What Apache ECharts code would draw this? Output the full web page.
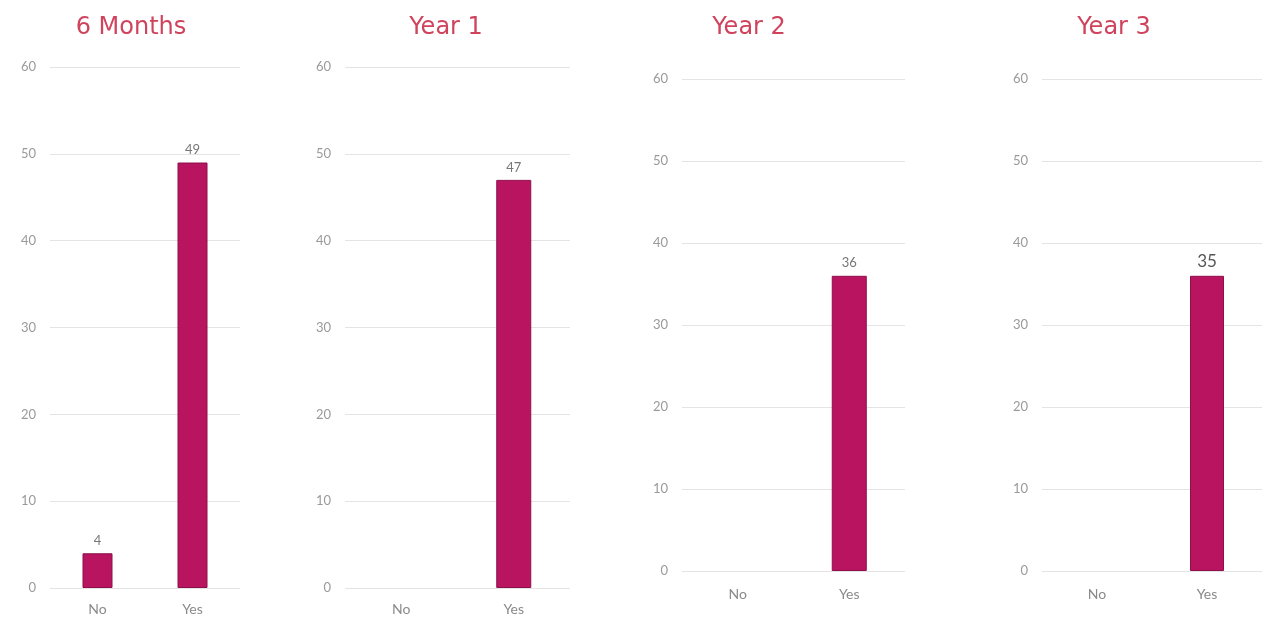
<!DOCTYPE html>
<html>
<head>
<meta charset="utf-8">
<script src="https://cdn.jsdelivr.net/npm/echarts@6/dist/echarts.min.js"></script>
<style>html,body{margin:0;padding:0;background:#fff;}#c{width:1264px;height:619px;}</style>
</head>
<body>
<div id="c"></div>
<script>
const panelTitles = ["6 Months", "Year 1", "Year 2", "Year 3"];
const categories = ["No", "Yes"];
const values6m = [4, 49];
const valuesY1 = [0, 47];
const valuesY2 = [0, 36];
const valuesY3 = [0, 36];
const labelsY3 = ["", "35"];
const yTicks = [0, 10, 20, 30, 40, 50, 60];

const allValues = [values6m, valuesY1, valuesY2, valuesY3];
const layout = [
  {left: 50, width: 190, top: 67, bottom: 31, titleX: 126, barW: 30},
  {left: 345, width: 225, top: 67, bottom: 31, titleX: 441, barW: 35},
  {left: 682, width: 223, top: 79, bottom: 48, titleX: 744, barW: 35},
  {left: 1042, width: 220, top: 79, bottom: 48, titleX: 1109, barW: 34}
];
const font = "Lato, 'DejaVu Sans', sans-serif";
const option = {
  animation: false,
  title: panelTitles.map((t, i) => ({
    text: t, left: layout[i].titleX, top: 11, textAlign: 'center',
    textStyle: {color: '#d0435c', fontSize: 24, fontWeight: 'normal', fontFamily: "'DejaVu Sans', sans-serif"}
  })),
  grid: layout.map(l => ({left: l.left, width: l.width, top: l.top, bottom: l.bottom})),
  xAxis: layout.map((l, i) => ({
    type: 'category', gridIndex: i, data: categories,
    axisLine: {show: false}, axisTick: {show: false},
    axisLabel: {color: '#8a8a8a', fontSize: 14, fontFamily: font, margin: i < 2 ? 14 : 16}
  })),
  yAxis: layout.map((l, i) => ({
    type: 'value', gridIndex: i, min: yTicks[0], max: yTicks[yTicks.length - 1], interval: 10,
    axisLine: {show: false}, axisTick: {show: false},
    axisLabel: {color: '#9a9a9a', fontSize: 13, fontFamily: font, margin: 14},
    splitLine: {lineStyle: {color: '#e4e4e4', width: 1}}
  })),
  series: allValues.map((vals, i) => ({
    type: 'bar', xAxisIndex: i, yAxisIndex: i,
    data: vals.map((v, j) => ({
      value: v,
      itemStyle: v > 0 ? {} : {borderWidth: 0, opacity: 0},
      label: {
        show: v > 0,
        formatter: i === 3 ? labelsY3[j] : String(v),
        fontSize: i === 3 ? 17 : 13,
        color: i === 3 ? '#555' : '#777'
      }
    })),
    barWidth: layout[i].barW,
    itemStyle: {color: '#b8145f', borderColor: '#8e0f4a', borderWidth: 1},
    label: {show: true, position: 'top', fontFamily: font, distance: 6}
  }))
};
const chart = echarts.init(document.getElementById('c'));
chart.setOption(option);
</script>
</body>
</html>
